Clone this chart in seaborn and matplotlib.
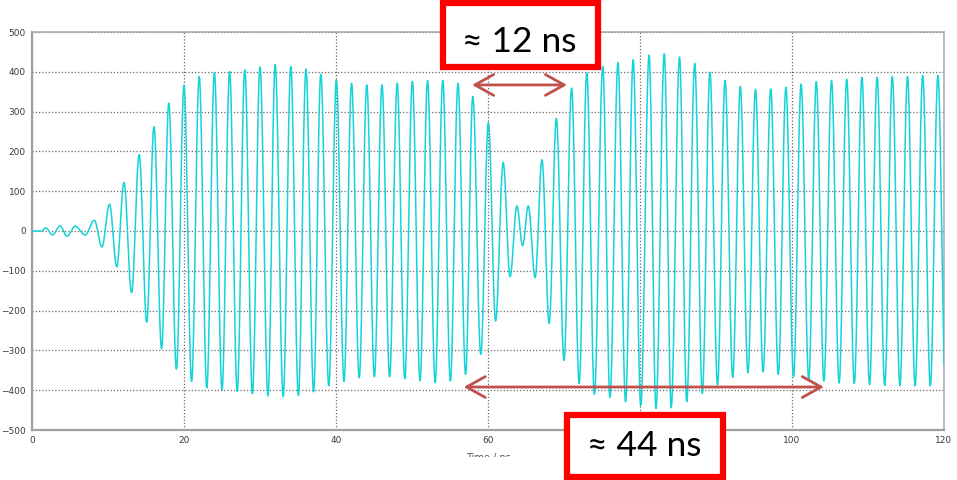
import numpy as np
import pandas as pd
import matplotlib
matplotlib.use("Agg")
import matplotlib.pyplot as plt
from matplotlib.patches import Rectangle
import seaborn as sns

# Alternating turning points of the recorded signal (time in ns, amplitude)
extremum_time = [
    0.0, 1.3, 1.8, 2.7, 3.7, 4.6, 5.7, 7.0, 8.2, 9.2, 10.2, 11.15,
    12.1, 13.1, 14.1, 15.1, 16.05, 17.05, 18.0, 19.0, 20.0, 21.0,
    22.0, 23.0, 24.0, 25.0, 26.0, 27.0, 28.0, 29.0, 30.0, 31.05,
    32.0, 33.05, 34.05, 35.05, 36.05, 37.05, 38.0, 39.05, 40.05, 41.05,
    42.05, 43.05, 44.05, 45.05, 46.05, 47.05, 48.05, 49.05, 50.05, 51.05,
    52.05, 53.05, 54.05, 55.05, 56.05, 57.05, 58.0, 59.05, 60.05, 61.0,
    62.0, 62.9, 63.8, 64.55, 65.3, 66.2, 67.1, 68.05, 69.0, 70.0,
    71.0, 72.0, 73.0, 74.0, 75.1, 76.05, 77.1, 78.1, 79.1, 80.1,
    81.2, 82.1, 83.2, 84.1, 85.2, 86.15, 87.2, 88.2, 89.2, 90.2,
    91.2, 92.2, 93.2, 94.2, 95.2, 96.2, 97.2, 98.2, 99.2, 100.2,
    101.2, 102.2, 103.2, 104.2, 105.2, 106.2, 107.2, 108.2, 109.2, 110.2,
    111.2, 112.2, 113.2, 114.2, 115.2, 116.2, 117.2, 118.2, 119.2, 120.2,
]
extremum_value = [
    0, 0, 8, -10, 13, -13, 12, -10, 27, -40, 67, -90,
    122, -155, 192, -229, 262, -296, 321, -347, 366, -378,
    388, -394, 398, -399, 401, -403, 405, -409, 412, -414,
    418, -416, 413, -413, 407, -404, 394, -389, 380, -378,
    371, -369, 367, -366, 367, -366, 371, -371, 376, -376,
    378, -381, 378, -377, 371, -360, 338, -310, 272, -226,
    172, -115, 63, -37, 63, -117, 179, -232, 283, -325,
    359, -383, 397, -410, 413, -418, 423, -429, 430, -438,
    442, -446, 445, -444, 437, -429, 421, -408, 399, -387,
    378, -368, 363, -356, 356, -354, 357, -360, 361, -366,
    369, -373, 375, -377, 378, -382, 381, -383, 386, -386,
    386, -388, 388, -389, 388, -389, 391, -389, 391, -389,
]

x_ticks = [0, 20, 40, 60, 80, 100, 120]
y_ticks = [-500, -400, -300, -200, -100, 0, 100, 200, 300, 400, 500]

short_span = (57.9, 70.4, 367, "≈ 12 ns")
long_span = (56.8, 104.2, -392, "≈ 44 ns")

# Smooth half-cosine swings between consecutive turning points
t_parts, v_parts = [], []
for i in range(len(extremum_time) - 1):
    t0, t1 = extremum_time[i], extremum_time[i + 1]
    v0, v1 = extremum_value[i], extremum_value[i + 1]
    s = np.linspace(0, 1, 24, endpoint=False)
    t_parts.append(t0 + (t1 - t0) * s)
    v_parts.append((v0 + v1) / 2 + (v0 - v1) / 2 * np.cos(np.pi * s))
t_parts.append([extremum_time[-1]])
v_parts.append([extremum_value[-1]])
signal = pd.DataFrame({"time": np.concatenate(t_parts),
                       "amplitude": np.concatenate(v_parts)})

sns.set_style("white")
plt.rcParams["font.family"] = ["DejaVu Sans"]

fig = plt.figure(figsize=(9.57, 4.80), dpi=100)
ax = fig.add_axes([32 / 957, 1 - 430 / 480, 912 / 957, 398 / 480])

sns.lineplot(data=signal, x="time", y="amplitude", ax=ax, sort=False,
             estimator=None, color="#14D4D8", linewidth=1.1, zorder=3)

ax.set_xlim(0, 120)
ax.set_ylim(-500, 500)
ax.set_xticks(x_ticks)
ax.set_yticks(y_ticks)
ax.tick_params(axis="both", labelsize=6.5, labelcolor="#3a3a3a",
               length=2.5, width=0.8, color="#a0a0a0", pad=2)
ax.grid(True, color="#6a6a6a", linestyle=(0, (1, 1.6)), linewidth=0.9)
ax.set_axisbelow(True)
ax.set_ylabel("")
ax.set_xlabel("Time / ns", fontsize=7, color="#555555", labelpad=5.5)

for side in ("left", "bottom"):
    ax.spines[side].set_color("#a0a0a0")
    ax.spines[side].set_linewidth(1.6)
for side in ("top", "right"):
    ax.spines[side].set_color("#a8a8a8")
    ax.spines[side].set_linewidth(1.1)

# Double-headed span markers
for x0, x1, y, _ in (short_span, long_span):
    ax.annotate("", xy=(x0, y), xytext=(x1, y), annotation_clip=False,
                arrowprops=dict(arrowstyle="<->,head_length=1.35,head_width=0.75",
                                color="#C0504D", lw=2.0,
                                shrinkA=0, shrinkB=0), zorder=6)

# Blank strip along the bottom edge
fig.patches.append(Rectangle((0, 0), 1, 23.5 / 480, transform=fig.transFigure,
                             facecolor="white", edgecolor="none", zorder=5))

# Labelled boxes
label_font = ["Lato", "DejaVu Sans"]
boxes = [
    ((443, 3, 598, 67), (519, 42), short_span[3]),
    ((567, 415, 723, 477), (644, 446), long_span[3]),
]
for (l, t, r, b), (cx, cy), txt in boxes:
    fig.patches.append(Rectangle((l / 957, 1 - b / 480), (r - l) / 957,
                                 (b - t) / 480, transform=fig.transFigure,
                                 facecolor="white", edgecolor="#FF0000",
                                 linewidth=4.5, zorder=10))
    fig.text(cx / 957, 1 - cy / 480, txt, ha="center", va="center",
             fontsize=25.5, family=label_font, color="black", zorder=11)

fig.savefig("out.png", dpi=100)
